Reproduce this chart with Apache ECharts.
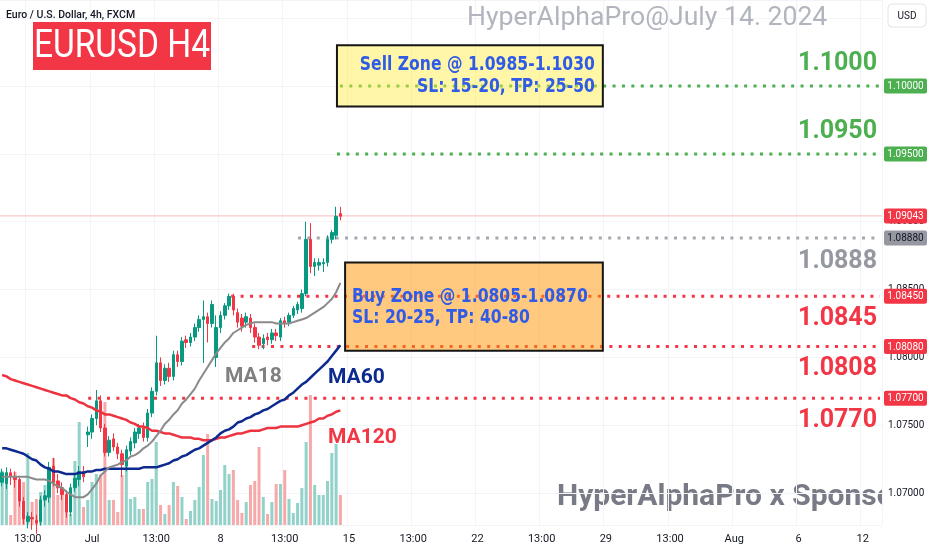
<!DOCTYPE html>
<html><head><meta charset="utf-8">
<script src="https://cdn.jsdelivr.net/npm/echarts@6.0.0/dist/echarts.min.js"></script>
<style>html,body{margin:0;padding:0;background:#fff}#c{width:932px;height:550px}</style>
</head><body><div id="c"></div>
<script>
// ---- data: [open, close, low, high] per 4h bar ----
const candles = [
[1.0708,1.0715,1.0705,1.0718],[1.0707,1.0715,1.0703,1.0719],[1.0715,1.0712,1.0706,1.0718],[1.0712,1.0710,1.0704,1.0716],
[1.0710,1.0694,1.0690,1.0712],[1.0694,1.0681,1.0677,1.0697],[1.0679,1.0683,1.0674,1.0686],[1.0682,1.0681,1.0673,1.0686],
[1.0680,1.0678,1.0670,1.0684],[1.0679,1.0695,1.0676,1.0698],[1.0695,1.0698,1.0690,1.0702],[1.0697,1.0719,1.0693,1.0723],
[1.0720,1.0708,1.0705,1.0726],[1.0709,1.0704,1.0700,1.0714],[1.0704,1.0699,1.0695,1.0708],[1.0699,1.0686,1.0682,1.0702],
[1.0686,1.0704,1.0683,1.0707],[1.0704,1.0711,1.0701,1.0714],[1.0710,1.0716,1.0705,1.0720],[1.0716,1.0712,1.0708,1.0720],
[1.0743,1.0745,1.0734,1.0749],[1.0745,1.0755,1.0740,1.0758],[1.0755,1.0768,1.0750,1.0776],[1.0768,1.0748,1.0745,1.0772],
[1.0748,1.0730,1.0727,1.0751],[1.0730,1.0739,1.0727,1.0742],[1.0740,1.0734,1.0731,1.0744],[1.0734,1.0729,1.0725,1.0737],
[1.0729,1.0721,1.0712,1.0732],[1.0720,1.0732,1.0716,1.0735],[1.0731,1.0738,1.0728,1.0741],[1.0737,1.0745,1.0733,1.0748],
[1.0744,1.0748,1.0740,1.0751],[1.0748,1.0741,1.0738,1.0752],[1.0741,1.0759,1.0738,1.0762],[1.0759,1.0775,1.0756,1.0778],
[1.0775,1.0796,1.0772,1.0816],[1.0796,1.0783,1.0779,1.0800],[1.0783,1.0792,1.0780,1.0795],[1.0792,1.0786,1.0782,1.0796],
[1.0786,1.0802,1.0783,1.0805],[1.0802,1.0797,1.0793,1.0805],[1.0797,1.0812,1.0794,1.0815],[1.0813,1.0811,1.0807,1.0816],
[1.0811,1.0815,1.0808,1.0818],[1.0815,1.0822,1.0812,1.0825],[1.0822,1.0828,1.0819,1.0831],[1.0828,1.0830,1.0796,1.0842],
[1.0830,1.0825,1.0811,1.0833],[1.0825,1.0839,1.0822,1.0842],[1.0800,1.0822,1.0793,1.0831],[1.0822,1.0831,1.0818,1.0834],
[1.0831,1.0838,1.0828,1.0840],[1.0838,1.0845,1.0835,1.0847],[1.0845,1.0835,1.0831,1.0847],[1.0833,1.0826,1.0822,1.0836],
[1.0829,1.0823,1.0819,1.0832],[1.0826,1.0830,1.0822,1.0833],[1.0829,1.0822,1.0818,1.0832],[1.0822,1.0815,1.0811,1.0825],
[1.0815,1.0809,1.0806,1.0818],[1.0810,1.0814,1.0806,1.0817],[1.0815,1.0813,1.0809,1.0818],[1.0813,1.0818,1.0810,1.0821],
[1.0818,1.0816,1.0812,1.0821],[1.0815,1.0827,1.0812,1.0829],[1.0827,1.0825,1.0822,1.0830],[1.0826,1.0831,1.0823,1.0833],
[1.0831,1.0836,1.0829,1.0838],[1.0835,1.0839,1.0832,1.0841],[1.0836,1.0847,1.0833,1.0850],[1.0847,1.0887,1.0845,1.0900],
[1.0887,1.0867,1.0862,1.0899],[1.0867,1.0870,1.0860,1.0873],[1.0868,1.0870,1.0864,1.0873],[1.0869,1.0870,1.0863,1.0873],
[1.0870,1.0887,1.0867,1.0890],[1.0887,1.0892,1.0884,1.0894],[1.0890,1.0904,1.0887,1.0911],[1.0906,1.0904,1.0901,1.0911]
];
const volumes = [54,53,10,53,23,43,72,23,26,33,40,55,67,30,36,25,11,64,103,18,25,43,51,50,123,25,25,13,50,63,
26,28,16,16,43,46,83,20,11,20,43,39,28,6,14,25,38,70,91,26,24,35,60,51,55,25,12,23,40,44,
78,28,11,23,41,41,55,26,12,22,37,83,130,40,30,30,44,72,81,30];
const ma18 = [1.0712,1.0712,1.0712,1.0712,1.0712,1.0712,1.0712,1.0711,1.0710,1.0710,1.0710,1.0709,1.0707,1.0705,1.0704,1.0701,1.0699,1.0697,1.0697,1.0697,
1.0699,1.0703,1.0707,1.0713,1.0716,1.0719,1.0720,1.0721,1.0723,1.0724,1.0727,1.0728,1.0730,1.0733,1.0735,1.0738,1.0742,1.0746,1.0751,1.0754,
1.0758,1.0761,1.0766,1.0769,1.0773,1.0777,1.0783,1.0788,1.0793,1.0798,1.0803,1.0807,1.0811,1.0814,1.0818,1.0820,1.0822,1.0824,1.0825,1.0826,
1.0826,1.0826,1.0826,1.0826,1.0825,1.0825,1.0825,1.0825,1.0826,1.0827,1.0828,1.0829,1.0831,1.0833,1.0835,1.0837,1.0840,1.0843,1.0848,1.0855];
const ma60 = [1.0733,1.0733,1.0732,1.0731,1.0730,1.0729,1.0727,1.0725,1.0724,1.0721,1.0719,1.0718,1.0716,1.0716,1.0715,1.0714,1.0714,1.0714,1.0715,1.0715,
1.0716,1.0716,1.0717,1.0717,1.0718,1.0718,1.0718,1.0718,1.0718,1.0718,1.0718,1.0718,1.0718,1.0719,1.0719,1.0719,1.0719,1.0720,1.0721,1.0722,
1.0724,1.0725,1.0727,1.0728,1.0730,1.0732,1.0733,1.0735,1.0737,1.0739,1.0741,1.0744,1.0746,1.0747,1.0749,1.0752,1.0753,1.0755,1.0756,1.0758,
1.0759,1.0761,1.0762,1.0764,1.0766,1.0768,1.0769,1.0772,1.0774,1.0777,1.0780,1.0782,1.0785,1.0788,1.0791,1.0794,1.0797,1.0801,1.0805,1.0809];
const ma120 = [1.0787,1.0786,1.0784,1.0783,1.0782,1.0781,1.0780,1.0779,1.0778,1.0777,1.0776,1.0775,1.0774,1.0773,1.0772,1.0772,1.0770,1.0769,1.0767,1.0766,
1.0764,1.0763,1.0761,1.0760,1.0758,1.0758,1.0757,1.0756,1.0755,1.0754,1.0752,1.0751,1.0749,1.0749,1.0748,1.0746,1.0746,1.0745,1.0744,1.0744,
1.0743,1.0742,1.0741,1.0741,1.0741,1.0740,1.0740,1.0739,1.0739,1.0739,1.0740,1.0741,1.0741,1.0742,1.0743,1.0744,1.0744,1.0745,1.0746,1.0746,
1.0746,1.0747,1.0748,1.0748,1.0748,1.0749,1.0749,1.0749,1.0749,1.0749,1.0750,1.0751,1.0752,1.0753,1.0755,1.0755,1.0757,1.0758,1.0760,1.0761];
const xTickLabels = ['13:00','Jul','13:00','8','13:00','15','13:00','22','13:00','29','13:00','Aug','6','12'];
const yTickValues = [1.070, 1.075, 1.080, 1.085, 1.090, 1.095, 1.100, 1.105];
const levelPrices = [1.1000, 1.0950, 1.0888, 1.0845, 1.0808, 1.0770];
const currentPrice = 1.09043;
const sellZone = [1.0985, 1.1030];
const buyZone = [1.0805, 1.0870];
const sellText = ['Sell Zone @ ' + sellZone[0].toFixed(4) + '-' + sellZone[1].toFixed(4), 'SL: 15-20, TP: 25-50'];
const buyText = ['Buy Zone @ ' + buyZone[0].toFixed(4) + '-' + buyZone[1].toFixed(4), 'SL: 20-25, TP: 40-80'];

// ---- layout / style ----
const totalBars = 206;
const categories = Array.from({length: totalBars}, (_, i) => String(i));
const labelFirst = 6, labelStep = 15;
const priceMin = 1.06765, priceMax = 1.10634;
const levelStartBar = [78.9, 78.2, 69.1, 53.5, 58.4, 20.1];
const levelDot = ['#4caf50','#4caf50','#a5a8ae','#f23645','#f23645','#f23645'];
const levelTagBg = ['#4caf50','#4caf50','#9598a1','#f23645','#f23645','#f23645'];
const levelTagFg = ['#ffffff','#ffffff','#131722','#ffffff','#ffffff','#ffffff'];
const levelLabelColor = ['#4caf50','#4caf50','#9598a1','#f23645','#f23645','#f23645'];
const levelLabelOffset = [-22,-22,24,22,22,23];
const zoneBars = [[78.2, 140.3], [80.1, 140.3]];
const UP = '#089981', DOWN = '#f23645';

const isLabel = (i) => i >= labelFirst && (i - labelFirst) % labelStep === 0;

function renderLevel(params, api) {
  const i = params.dataIndex;
  const cs = params.coordSys;
  const p = api.coord([api.value(0), api.value(1)]);
  const right = cs.x + cs.width;
  const y = p[1];
  const price = api.value(1);
  return { type: 'group', children: [
    { type: 'line', shape: { x1: p[0], y1: y, x2: right - 2, y2: y },
      style: { stroke: levelDot[i], lineWidth: 3, lineDash: [3, 6.4], lineCap: 'butt' } },
    { type: 'rect', shape: { x: right + 2, y: y - 7.5, width: 43, height: 15, r: 2 }, style: { fill: levelTagBg[i] } },
    { type: 'text', style: { text: price.toFixed(5), x: right + 23.5, y: y + 0.5, align: 'center', verticalAlign: 'middle',
      textAlign: 'center', textVerticalAlign: 'middle', fill: levelTagFg[i], font: '10px Roboto' } },
    { type: 'text', style: { text: price.toFixed(4), x: right - 5, y: y + levelLabelOffset[i], align: 'right', verticalAlign: 'middle',
      textAlign: 'right', textVerticalAlign: 'middle', fill: levelLabelColor[i], font: 'bold 25px Roboto' } }
  ]};
}
function renderCurrent(params, api) {
  const cs = params.coordSys;
  const p = api.coord([api.value(0), api.value(1)]);
  const right = cs.x + cs.width;
  const y = p[1];
  return { type: 'group', children: [
    { type: 'line', shape: { x1: cs.x, y1: y, x2: right, y2: y }, style: { stroke: 'rgba(242,54,69,0.35)', lineWidth: 1 } },
    { type: 'rect', shape: { x: right + 2, y: y - 7.5, width: 43, height: 15, r: 2 }, style: { fill: '#f23645' } },
    { type: 'text', style: { text: api.value(1).toFixed(5), x: right + 23.5, y: y + 0.5, align: 'center', verticalAlign: 'middle',
      textAlign: 'center', textVerticalAlign: 'middle', fill: '#ffffff', font: '10px Roboto' } }
  ]};
}
function renderTick(params, api) {
  const cs = params.coordSys;
  const p = api.coord([api.value(0), api.value(1)]);
  return { type: 'text', style: { text: api.value(1).toFixed(5), x: cs.x + cs.width + 6, y: p[1], align: 'left', verticalAlign: 'middle',
    textAlign: 'left', textVerticalAlign: 'middle', fill: '#131722', font: '10px Roboto' } };
}
function renderZone(params, api) {
  const i = params.dataIndex;
  const tl = api.coord([api.value(0), api.value(3)]);
  const br = api.coord([api.value(1), api.value(2)]);
  const w = br[0] - tl[0], h = br[1] - tl[1];
  const lines = i === 0 ? sellText : buyText;
  const fill = i === 0 ? 'rgba(255,236,60,0.45)' : 'rgba(255,150,0,0.5)';
  const tx = i === 0 ? br[0] - 8 : tl[0] + 7;
  const al = i === 0 ? 'right' : 'left';
  const ty = i === 0 ? [tl[1] + 20, tl[1] + 42] : [tl[1] + 35, tl[1] + 56];
  const mk = (t, yy) => ({ type: 'text', x: tx, y: yy, scaleX: 0.8,
    style: { text: t, x: 0, y: 0, align: al, verticalAlign: 'middle', textAlign: al, textVerticalAlign: 'middle',
      fill: '#2f5be6', font: 'bold 19.5px "DejaVu Sans"' } });
  return { type: 'group', children: [
    { type: 'rect', shape: { x: tl[0], y: tl[1], width: w, height: h }, style: { fill: fill, stroke: '#151515', lineWidth: 2 } },
    mk(lines[0], ty[0]), mk(lines[1], ty[1])
  ]};
}

const chart = echarts.init(document.getElementById('c'), null, { renderer: 'canvas' });
chart.setOption({
  animation: false,
  backgroundColor: '#ffffff',
  grid: { left: 0, right: 50, top: 0, bottom: 25, containLabel: false, outerBoundsMode: 'none' },
  xAxis: [
    { type: 'category', data: categories, boundaryGap: true, z: 3,
      axisLine: { show: false }, axisTick: { show: false },
      axisLabel: { interval: (i) => isLabel(i), formatter: (v, i) => xTickLabels[(i - labelFirst) / labelStep],
        color: '#131722', fontSize: 11, fontFamily: 'Roboto', margin: 9 },
      splitLine: { show: true, interval: (i) => isLabel(i), lineStyle: { color: '#f2f4f8', width: 1 } } },
    { type: 'value', min: -0.5, max: totalBars - 0.5, show: false }
  ],
  yAxis: [
    { type: 'value', position: 'right', min: priceMin, max: priceMax, splitNumber: 8, z: 3,
      axisLine: { show: false }, axisTick: { show: false }, axisLabel: { show: false },
      splitLine: { show: true, lineStyle: { color: '#f2f4f8', width: 1 } } },
    { type: 'value', min: 0, max: 525, show: false }
  ],
  series: [
    { name: 'Volume', type: 'bar', xAxisIndex: 0, yAxisIndex: 1, data: volumes, barWidth: 3, z: 4,
      itemStyle: { color: (p) => candles[p.dataIndex][1] >= candles[p.dataIndex][0] ? '#92d2c9' : '#f7a8a8' } },
    { name: 'Ticks', type: 'custom', xAxisIndex: 1, yAxisIndex: 0, clip: false, z: 3,
      data: yTickValues.map((v) => [0, v]), renderItem: renderTick },
    { name: 'Levels', type: 'custom', xAxisIndex: 1, yAxisIndex: 0, clip: false, z: 5,
      data: levelPrices.map((p, i) => [levelStartBar[i], p]), renderItem: renderLevel },
    { name: 'Current', type: 'custom', xAxisIndex: 1, yAxisIndex: 0, clip: false, z: 5,
      data: [[-0.5, currentPrice]], renderItem: renderCurrent },
    { name: 'EURUSD', type: 'candlestick', xAxisIndex: 0, yAxisIndex: 0, data: candles, barWidth: 3, z: 6,
      itemStyle: { color: UP, color0: DOWN, borderColor: UP, borderColor0: DOWN, borderWidth: 1 } },
    { name: 'MA120', type: 'line', data: ma120, symbol: 'none', z: 7, lineStyle: { color: '#ee3340', width: 2.5 } },
    { name: 'MA60', type: 'line', data: ma60, symbol: 'none', z: 7, lineStyle: { color: '#0d2a8f', width: 2.5 } },
    { name: 'MA18', type: 'line', data: ma18, symbol: 'none', z: 7, lineStyle: { color: '#8a8a8a', width: 2 } },
    { name: 'Zones', type: 'custom', xAxisIndex: 1, yAxisIndex: 0, clip: false, z: 8,
      data: [[zoneBars[0][0], zoneBars[0][1], sellZone[0], sellZone[1]], [zoneBars[1][0], zoneBars[1][1], buyZone[0], buyZone[1]]],
      renderItem: renderZone }
  ],
  graphic: { elements: [
    { type: 'text', z: 1, x: 557, y: 497, style: { text: 'HyperAlphaPro x Sponsor', x: 0, y: 0, align: 'left', verticalAlign: 'middle',
      textAlign: 'left', textVerticalAlign: 'middle', fill: '#787b86', font: 'bold 30px Roboto' } },
    { type: 'rect', z: 2, shape: { x: 882, y: 440, width: 50, height: 85 }, style: { fill: '#ffffff' } },
    { type: 'text', z: 10, x: 6, y: 15, style: { text: 'Euro / U.S. Dollar, 4h, FXCM', x: 0, y: 0, align: 'left', verticalAlign: 'middle',
      textAlign: 'left', textVerticalAlign: 'middle', fill: '#131722', font: '500 10.5px Roboto' } },
    { type: 'rect', z: 10, shape: { x: 33, y: 22, width: 178, height: 48 }, style: { fill: '#f23645' } },
    { type: 'text', z: 11, x: 122, y: 47, scaleX: 0.86, style: { text: 'EURUSD H4', x: 0, y: 0, align: 'center', verticalAlign: 'middle',
      textAlign: 'center', textVerticalAlign: 'middle', fill: '#ffffff', font: '39px Roboto' } },
    { type: 'text', z: 10, x: 467, y: 18, style: { text: 'HyperAlphaPro@July 14. 2024', x: 0, y: 0, align: 'left', verticalAlign: 'middle',
      textAlign: 'left', textVerticalAlign: 'middle', fill: '#b2b5be', font: '26.6px Roboto' } },
    { type: 'rect', z: 10, shape: { x: 888, y: 4, width: 38, height: 23, r: 4 }, style: { fill: '#ffffff', stroke: '#e0e3eb', lineWidth: 1 } },
    { type: 'text', z: 11, x: 907, y: 16, style: { text: 'USD', x: 0, y: 0, align: 'center', verticalAlign: 'middle',
      textAlign: 'center', textVerticalAlign: 'middle', fill: '#131722', font: '10px Roboto' } },
    { type: 'text', z: 10, x: 225, y: 377, style: { text: 'MA18', x: 0, y: 0, align: 'left', verticalAlign: 'middle',
      textAlign: 'left', textVerticalAlign: 'middle', fill: '#808080', font: 'bold 21px Roboto' } },
    { type: 'text', z: 10, x: 328, y: 378, style: { text: 'MA60', x: 0, y: 0, align: 'left', verticalAlign: 'middle',
      textAlign: 'left', textVerticalAlign: 'middle', fill: '#0d2a8f', font: 'bold 21px Roboto' } },
    { type: 'text', z: 10, x: 328, y: 438, style: { text: 'MA120', x: 0, y: 0, align: 'left', verticalAlign: 'middle',
      textAlign: 'left', textVerticalAlign: 'middle', fill: '#f23645', font: 'bold 21px Roboto' } }
  ]}
});
</script></body></html>
